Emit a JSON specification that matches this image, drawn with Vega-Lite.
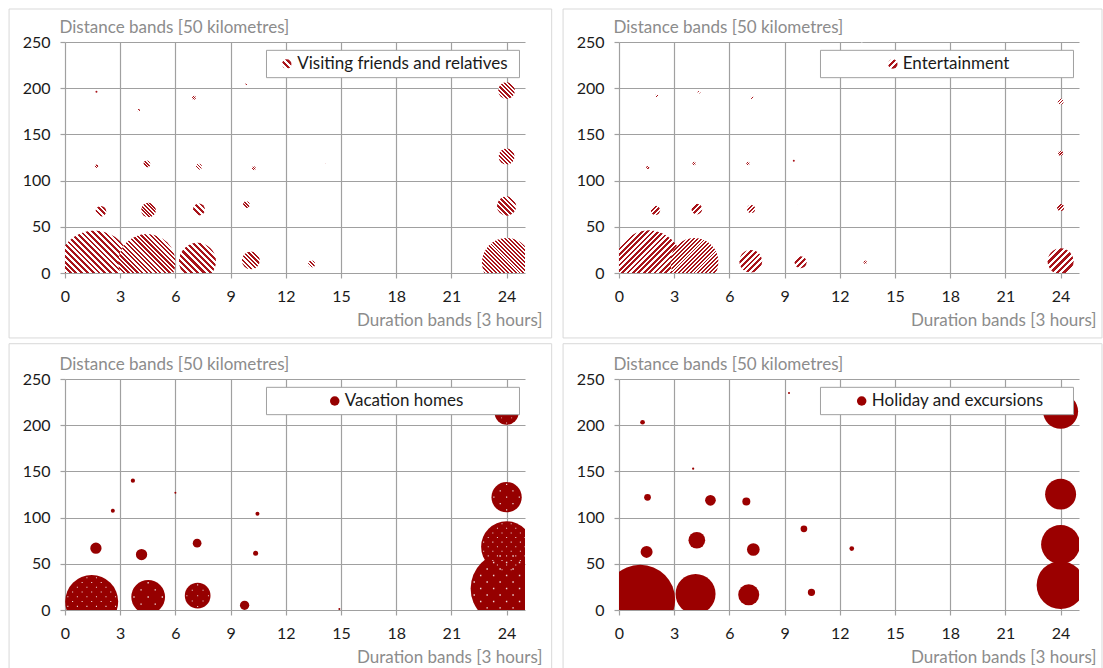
{
"$schema": "https://vega.github.io/schema/vega-lite/v6.json",
"background": "white",
"padding": {"left": 8, "top": 8, "right": 0, "bottom": 0},
"autosize": {"type": "pad"},
"bounds": "flush",
"columns": 2,
"spacing": {"row": 106, "column": 94},
"datasets": {
"vfr": [
{"duration":1.6,"distance":7,"trips":518},{"duration":4.45,"distance":11.4,"trips":325},{"duration":7.2,"distance":12.6,"trips":137},{"duration":10.1,"distance":13.7,"trips":32},{"duration":13.4,"distance":9.7,"trips":4.9},
{"duration":1.95,"distance":66.8,"trips":11.4},{"duration":4.54,"distance":68.2,"trips":21.6},{"duration":7.28,"distance":68.6,"trips":14.4},{"duration":9.86,"distance":74,"trips":4.5},{"duration":12.64,"distance":76.5,"trips":0.4},
{"duration":1.71,"distance":115.5,"trips":1.2},{"duration":4.45,"distance":118,"trips":4.5},{"duration":7.28,"distance":115.1,"trips":3.6},{"duration":10.26,"distance":113.3,"trips":1.6},{"duration":14.22,"distance":118.8,"trips":0.3},
{"duration":1.71,"distance":196.2,"trips":0.4},{"duration":4.0,"distance":176.2,"trips":0.6},{"duration":7.01,"distance":189.6,"trips":1.6},{"duration":9.88,"distance":204.9,"trips":0.6},
{"duration":24,"distance":197.5,"trips":27.9},{"duration":24,"distance":126.1,"trips":25.6},{"duration":24,"distance":72.5,"trips":37.2},{"duration":24,"distance":11.3,"trips":243}
],
"ent": [
{"duration":1.62,"distance":9.9,"trips":449},{"duration":4.1,"distance":11.9,"trips":230},{"duration":7.16,"distance":12.7,"trips":51.5},{"duration":9.87,"distance":11.6,"trips":14.4},{"duration":13.38,"distance":11.6,"trips":1.2},
{"duration":1.98,"distance":67.8,"trips":8.6},{"duration":4.23,"distance":69.2,"trips":11.4},{"duration":7.18,"distance":69.2,"trips":6.4},{"duration":9.75,"distance":72.8,"trips":0.4},
{"duration":1.56,"distance":114.1,"trips":0.9},{"duration":4.08,"distance":118.5,"trips":1.2},{"duration":7.01,"distance":118.5,"trips":1.2},{"duration":9.5,"distance":121.4,"trips":0.4},
{"duration":2.05,"distance":191.7,"trips":0.9},{"duration":4.35,"distance":195.7,"trips":0.6},{"duration":7.23,"distance":189.9,"trips":0.9},{"duration":13.2,"distance":249.6,"trips":0.1},
{"duration":24,"distance":185.5,"trips":3.6},{"duration":24,"distance":129.7,"trips":2.5},{"duration":24,"distance":71,"trips":4.9},{"duration":24,"distance":12.6,"trips":67.6}
],
"vac": [
{"duration":1.45,"distance":9.1,"trips":281},{"duration":4.52,"distance":14.1,"trips":114},{"duration":7.21,"distance":15.5,"trips":66},{"duration":9.76,"distance":5.1,"trips":8.6},{"duration":14.91,"distance":1.1,"trips":0.4},
{"duration":1.68,"distance":66.9,"trips":12.8},{"duration":4.16,"distance":60,"trips":12.8},{"duration":7.18,"distance":72.3,"trips":7.6},{"duration":10.36,"distance":61.5,"trips":2.5},
{"duration":2.6,"distance":107.4,"trips":1.6},{"duration":10.46,"distance":104.1,"trips":1.6},{"duration":3.69,"distance":139.9,"trips":1.8},{"duration":6.0,"distance":126.9,"trips":0.4},
{"duration":24,"distance":213.4,"trips":57.6},{"duration":24,"distance":122.1,"trips":91.8},{"duration":24,"distance":68.5,"trips":260},{"duration":24,"distance":23.3,"trips":518}
],
"hol": [
{"duration":1.15,"distance":11.1,"trips":490},{"duration":4.16,"distance":17.3,"trips":160},{"duration":7.05,"distance":16.5,"trips":44.1},{"duration":10.46,"distance":19.1,"trips":5.3},
{"duration":1.5,"distance":62.9,"trips":14.4},{"duration":4.23,"distance":75.5,"trips":27.9},{"duration":7.3,"distance":65.5,"trips":16.1},{"duration":10.05,"distance":87.8,"trips":4.5},{"duration":12.65,"distance":66.5,"trips":2.2},
{"duration":1.55,"distance":121.9,"trips":4.5},{"duration":4.97,"distance":118.7,"trips":11.4},{"duration":6.92,"distance":117.3,"trips":6.4},
{"duration":1.28,"distance":203.2,"trips":2.2},{"duration":4.03,"distance":152.9,"trips":0.5},{"duration":9.24,"distance":234.9,"trips":0.4},
{"duration":24,"distance":215,"trips":122.5},{"duration":24,"distance":125.4,"trips":96},{"duration":24,"distance":71,"trips":152},{"duration":24,"distance":27,"trips":230}
]
},
"concat": [
{
"width": 460, "height": 231,
"data": {"name": "vfr"},
"layer": [
{"data": {"values": [{}]}, "mark": {"type": "rect", "fill": "white", "fillOpacity": 0, "stroke": "#d9d9d9", "strokeWidth": 1, "clip": false},
 "encoding": {"x": {"datum": -3.04, "type": "quantitative", "title": "Duration bands [3 hours]"}, "x2": {"datum": 26.45}, "y": {"datum": 285.7, "type": "quantitative", "title": "Distance bands [50 kilometres]"}, "y2": {"datum": -70.3}}},
{"mark": {"type": "point", "shape": "circle", "filled": true, "opacity": 1, "strokeWidth": 0, "clip": true},
 "encoding": {
  "x": {"field": "duration", "type": "quantitative", "title": "Duration bands [3 hours]", "scale": {"domain": [0, 25], "nice": false, "zero": false}, "axis": {"values": [0,3,6,9,12,15,18,21,24], "labelFlush": false, "titleAnchor": "end", "titleAlign": "right", "titleX": 477, "titleY": 47, "titleBaseline": "middle"}},
  "y": {"field": "distance", "type": "quantitative", "title": "Distance bands [50 kilometres]", "scale": {"domain": [0, 250], "nice": false}, "axis": {"values": [0,50,100,150,200,250], "labelFlush": false, "titleAngle": 0, "titleAlign": "left", "titleX": -6, "titleY": -15, "titleBaseline": "middle"}},
  "size": {"field": "trips", "type": "quantitative", "scale": {"domain": [0, 600], "range": [0, 6000]}, "legend": null},
  "fill": {"condition": [
   {"test": "datum.trips >= 194", "value": {"gradient": "linear", "x1": 0, "y1": 1, "x2": 1, "y2": 0, "stops": [{"offset":0,"color":"#a8141a"},{"offset":0.02,"color":"#a8141a"},{"offset":0.02,"color":"#fff"},{"offset":0.04,"color":"#fff"},{"offset":0.04,"color":"#a8141a"},{"offset":0.06,"color":"#a8141a"},{"offset":0.06,"color":"#fff"},{"offset":0.08,"color":"#fff"},{"offset":0.08,"color":"#a8141a"},{"offset":0.1,"color":"#a8141a"},{"offset":0.1,"color":"#fff"},{"offset":0.12,"color":"#fff"},{"offset":0.12,"color":"#a8141a"},{"offset":0.14,"color":"#a8141a"},{"offset":0.14,"color":"#fff"},{"offset":0.16,"color":"#fff"},{"offset":0.16,"color":"#a8141a"},{"offset":0.18,"color":"#a8141a"},{"offset":0.18,"color":"#fff"},{"offset":0.2,"color":"#fff"},{"offset":0.2,"color":"#a8141a"},{"offset":0.22,"color":"#a8141a"},{"offset":0.22,"color":"#fff"},{"offset":0.24,"color":"#fff"},{"offset":0.24,"color":"#a8141a"},{"offset":0.26,"color":"#a8141a"},{"offset":0.26,"color":"#fff"},{"offset":0.28,"color":"#fff"},{"offset":0.28,"color":"#a8141a"},{"offset":0.3,"color":"#a8141a"},{"offset":0.3,"color":"#fff"},{"offset":0.32,"color":"#fff"},{"offset":0.32,"color":"#a8141a"},{"offset":0.34,"color":"#a8141a"},{"offset":0.34,"color":"#fff"},{"offset":0.36,"color":"#fff"},{"offset":0.36,"color":"#a8141a"},{"offset":0.38,"color":"#a8141a"},{"offset":0.38,"color":"#fff"},{"offset":0.4,"color":"#fff"},{"offset":0.4,"color":"#a8141a"},{"offset":0.42,"color":"#a8141a"},{"offset":0.42,"color":"#fff"},{"offset":0.44,"color":"#fff"},{"offset":0.44,"color":"#a8141a"},{"offset":0.46,"color":"#a8141a"},{"offset":0.46,"color":"#fff"},{"offset":0.48,"color":"#fff"},{"offset":0.48,"color":"#a8141a"},{"offset":0.5,"color":"#a8141a"},{"offset":0.5,"color":"#fff"},{"offset":0.52,"color":"#fff"},{"offset":0.52,"color":"#a8141a"},{"offset":0.54,"color":"#a8141a"},{"offset":0.54,"color":"#fff"},{"offset":0.56,"color":"#fff"},{"offset":0.56,"color":"#a8141a"},{"offset":0.58,"color":"#a8141a"},{"offset":0.58,"color":"#fff"},{"offset":0.6,"color":"#fff"},{"offset":0.6,"color":"#a8141a"},{"offset":0.62,"color":"#a8141a"},{"offset":0.62,"color":"#fff"},{"offset":0.64,"color":"#fff"},{"offset":0.64,"color":"#a8141a"},{"offset":0.66,"color":"#a8141a"},{"offset":0.66,"color":"#fff"},{"offset":0.68,"color":"#fff"},{"offset":0.68,"color":"#a8141a"},{"offset":0.7,"color":"#a8141a"},{"offset":0.7,"color":"#fff"},{"offset":0.72,"color":"#fff"},{"offset":0.72,"color":"#a8141a"},{"offset":0.74,"color":"#a8141a"},{"offset":0.74,"color":"#fff"},{"offset":0.76,"color":"#fff"},{"offset":0.76,"color":"#a8141a"},{"offset":0.78,"color":"#a8141a"},{"offset":0.78,"color":"#fff"},{"offset":0.8,"color":"#fff"},{"offset":0.8,"color":"#a8141a"},{"offset":0.82,"color":"#a8141a"},{"offset":0.82,"color":"#fff"},{"offset":0.84,"color":"#fff"},{"offset":0.84,"color":"#a8141a"},{"offset":0.86,"color":"#a8141a"},{"offset":0.86,"color":"#fff"},{"offset":0.88,"color":"#fff"},{"offset":0.88,"color":"#a8141a"},{"offset":0.9,"color":"#a8141a"},{"offset":0.9,"color":"#fff"},{"offset":0.92,"color":"#fff"},{"offset":0.92,"color":"#a8141a"},{"offset":0.94,"color":"#a8141a"},{"offset":0.94,"color":"#fff"},{"offset":0.96,"color":"#fff"},{"offset":0.96,"color":"#a8141a"},{"offset":0.98,"color":"#a8141a"},{"offset":0.98,"color":"#fff"},{"offset":1,"color":"#fff"}]}},
   {"test": "datum.trips >= 78", "value": {"gradient": "linear", "x1": 0, "y1": 1, "x2": 1, "y2": 0, "stops": [{"offset":0,"color":"#a8141a"},{"offset":0.0417,"color":"#a8141a"},{"offset":0.0417,"color":"#fff"},{"offset":0.0833,"color":"#fff"},{"offset":0.0833,"color":"#a8141a"},{"offset":0.125,"color":"#a8141a"},{"offset":0.125,"color":"#fff"},{"offset":0.1667,"color":"#fff"},{"offset":0.1667,"color":"#a8141a"},{"offset":0.2083,"color":"#a8141a"},{"offset":0.2083,"color":"#fff"},{"offset":0.25,"color":"#fff"},{"offset":0.25,"color":"#a8141a"},{"offset":0.2917,"color":"#a8141a"},{"offset":0.2917,"color":"#fff"},{"offset":0.3333,"color":"#fff"},{"offset":0.3333,"color":"#a8141a"},{"offset":0.375,"color":"#a8141a"},{"offset":0.375,"color":"#fff"},{"offset":0.4167,"color":"#fff"},{"offset":0.4167,"color":"#a8141a"},{"offset":0.4583,"color":"#a8141a"},{"offset":0.4583,"color":"#fff"},{"offset":0.5,"color":"#fff"},{"offset":0.5,"color":"#a8141a"},{"offset":0.5417,"color":"#a8141a"},{"offset":0.5417,"color":"#fff"},{"offset":0.5833,"color":"#fff"},{"offset":0.5833,"color":"#a8141a"},{"offset":0.625,"color":"#a8141a"},{"offset":0.625,"color":"#fff"},{"offset":0.6667,"color":"#fff"},{"offset":0.6667,"color":"#a8141a"},{"offset":0.7083,"color":"#a8141a"},{"offset":0.7083,"color":"#fff"},{"offset":0.75,"color":"#fff"},{"offset":0.75,"color":"#a8141a"},{"offset":0.7917,"color":"#a8141a"},{"offset":0.7917,"color":"#fff"},{"offset":0.8333,"color":"#fff"},{"offset":0.8333,"color":"#a8141a"},{"offset":0.875,"color":"#a8141a"},{"offset":0.875,"color":"#fff"},{"offset":0.9167,"color":"#fff"},{"offset":0.9167,"color":"#a8141a"},{"offset":0.9583,"color":"#a8141a"},{"offset":0.9583,"color":"#fff"},{"offset":1,"color":"#fff"}]}},
   {"test": "datum.trips >= 20", "value": {"gradient": "linear", "x1": 0, "y1": 1, "x2": 1, "y2": 0, "stops": [{"offset":0,"color":"#a8141a"},{"offset":0.0625,"color":"#a8141a"},{"offset":0.0625,"color":"#fff"},{"offset":0.125,"color":"#fff"},{"offset":0.125,"color":"#a8141a"},{"offset":0.1875,"color":"#a8141a"},{"offset":0.1875,"color":"#fff"},{"offset":0.25,"color":"#fff"},{"offset":0.25,"color":"#a8141a"},{"offset":0.3125,"color":"#a8141a"},{"offset":0.3125,"color":"#fff"},{"offset":0.375,"color":"#fff"},{"offset":0.375,"color":"#a8141a"},{"offset":0.4375,"color":"#a8141a"},{"offset":0.4375,"color":"#fff"},{"offset":0.5,"color":"#fff"},{"offset":0.5,"color":"#a8141a"},{"offset":0.5625,"color":"#a8141a"},{"offset":0.5625,"color":"#fff"},{"offset":0.625,"color":"#fff"},{"offset":0.625,"color":"#a8141a"},{"offset":0.6875,"color":"#a8141a"},{"offset":0.6875,"color":"#fff"},{"offset":0.75,"color":"#fff"},{"offset":0.75,"color":"#a8141a"},{"offset":0.8125,"color":"#a8141a"},{"offset":0.8125,"color":"#fff"},{"offset":0.875,"color":"#fff"},{"offset":0.875,"color":"#a8141a"},{"offset":0.9375,"color":"#a8141a"},{"offset":0.9375,"color":"#fff"},{"offset":1,"color":"#fff"}]}}],
   "value": {"gradient": "linear", "x1": 0, "y1": 1, "x2": 1, "y2": 0, "stops": [{"offset":0,"color":"#a8141a"},{"offset":0.125,"color":"#a8141a"},{"offset":0.125,"color":"#fff"},{"offset":0.25,"color":"#fff"},{"offset":0.25,"color":"#a8141a"},{"offset":0.375,"color":"#a8141a"},{"offset":0.375,"color":"#fff"},{"offset":0.5,"color":"#fff"},{"offset":0.5,"color":"#a8141a"},{"offset":0.625,"color":"#a8141a"},{"offset":0.625,"color":"#fff"},{"offset":0.75,"color":"#fff"},{"offset":0.75,"color":"#a8141a"},{"offset":0.875,"color":"#a8141a"},{"offset":0.875,"color":"#fff"},{"offset":1,"color":"#fff"}]}}
 }},
{"data": {"values": [{}]}, "mark": {"type": "rect", "fill": "white", "stroke": "#a0a0a0", "strokeWidth": 1},
 "encoding": {"x": {"datum": 10.95, "type": "quantitative", "title": "Duration bands [3 hours]"}, "x2": {"datum": 24.7}, "y": {"datum": 241, "type": "quantitative", "title": "Distance bands [50 kilometres]"}, "y2": {"datum": 211.4}}},
{"data": {"values": [{}]}, "mark": {"type": "point", "shape": "circle", "filled": true, "opacity": 1, "strokeWidth": 0, "size": 90, "fill": {"gradient": "linear", "x1": 0, "y1": 1, "x2": 1, "y2": 0, "stops": [{"offset":0,"color":"#a8141a"},{"offset":0.1667,"color":"#a8141a"},{"offset":0.1667,"color":"#fff"},{"offset":0.3333,"color":"#fff"},{"offset":0.3333,"color":"#a8141a"},{"offset":0.5,"color":"#a8141a"},{"offset":0.5,"color":"#fff"},{"offset":0.6667,"color":"#fff"},{"offset":0.6667,"color":"#a8141a"},{"offset":0.8333,"color":"#a8141a"},{"offset":0.8333,"color":"#fff"},{"offset":1,"color":"#fff"}]}},
 "encoding": {"x": {"datum": 12.05, "type": "quantitative", "title": "Duration bands [3 hours]"}, "y": {"datum": 226.2, "type": "quantitative", "title": "Distance bands [50 kilometres]"}}},
{"data": {"values": [{"label": "Visiting friends and relatives"}]}, "mark": {"type": "text", "align": "left", "baseline": "middle", "fontSize": 17, "color": "#1a1a1a"},
 "encoding": {"x": {"datum": 12.62, "type": "quantitative", "title": "Duration bands [3 hours]"}, "y": {"datum": 226.2, "type": "quantitative", "title": "Distance bands [50 kilometres]"}, "text": {"field": "label"}}}
]
},
{
"width": 460, "height": 231,
"data": {"name": "ent"},
"layer": [
{"data": {"values": [{}]}, "mark": {"type": "rect", "fill": "white", "fillOpacity": 0, "stroke": "#d9d9d9", "strokeWidth": 1, "clip": false},
 "encoding": {"x": {"datum": -3.04, "type": "quantitative", "title": "Duration bands [3 hours]"}, "x2": {"datum": 26.25}, "y": {"datum": 285.7, "type": "quantitative", "title": "Distance bands [50 kilometres]"}, "y2": {"datum": -70.3}}},
{"mark": {"type": "point", "shape": "circle", "filled": true, "opacity": 1, "strokeWidth": 0, "clip": true},
 "encoding": {
  "x": {"field": "duration", "type": "quantitative", "title": "Duration bands [3 hours]", "scale": {"domain": [0, 25], "nice": false, "zero": false}, "axis": {"values": [0,3,6,9,12,15,18,21,24], "labelFlush": false, "titleAnchor": "end", "titleAlign": "right", "titleX": 477, "titleY": 47, "titleBaseline": "middle"}},
  "y": {"field": "distance", "type": "quantitative", "title": "Distance bands [50 kilometres]", "scale": {"domain": [0, 250], "nice": false}, "axis": {"values": [0,50,100,150,200,250], "labelFlush": false, "titleAngle": 0, "titleAlign": "left", "titleX": -6, "titleY": -15, "titleBaseline": "middle"}},
  "size": {"field": "trips", "type": "quantitative", "scale": {"domain": [0, 600], "range": [0, 6000]}, "legend": null},
  "fill": {"condition": [
   {"test": "datum.trips >= 194", "value": {"gradient": "linear", "x1": 0, "y1": 0, "x2": 1, "y2": 1, "stops": [{"offset":0,"color":"#a8141a"},{"offset":0.02,"color":"#a8141a"},{"offset":0.02,"color":"#fff"},{"offset":0.04,"color":"#fff"},{"offset":0.04,"color":"#a8141a"},{"offset":0.06,"color":"#a8141a"},{"offset":0.06,"color":"#fff"},{"offset":0.08,"color":"#fff"},{"offset":0.08,"color":"#a8141a"},{"offset":0.1,"color":"#a8141a"},{"offset":0.1,"color":"#fff"},{"offset":0.12,"color":"#fff"},{"offset":0.12,"color":"#a8141a"},{"offset":0.14,"color":"#a8141a"},{"offset":0.14,"color":"#fff"},{"offset":0.16,"color":"#fff"},{"offset":0.16,"color":"#a8141a"},{"offset":0.18,"color":"#a8141a"},{"offset":0.18,"color":"#fff"},{"offset":0.2,"color":"#fff"},{"offset":0.2,"color":"#a8141a"},{"offset":0.22,"color":"#a8141a"},{"offset":0.22,"color":"#fff"},{"offset":0.24,"color":"#fff"},{"offset":0.24,"color":"#a8141a"},{"offset":0.26,"color":"#a8141a"},{"offset":0.26,"color":"#fff"},{"offset":0.28,"color":"#fff"},{"offset":0.28,"color":"#a8141a"},{"offset":0.3,"color":"#a8141a"},{"offset":0.3,"color":"#fff"},{"offset":0.32,"color":"#fff"},{"offset":0.32,"color":"#a8141a"},{"offset":0.34,"color":"#a8141a"},{"offset":0.34,"color":"#fff"},{"offset":0.36,"color":"#fff"},{"offset":0.36,"color":"#a8141a"},{"offset":0.38,"color":"#a8141a"},{"offset":0.38,"color":"#fff"},{"offset":0.4,"color":"#fff"},{"offset":0.4,"color":"#a8141a"},{"offset":0.42,"color":"#a8141a"},{"offset":0.42,"color":"#fff"},{"offset":0.44,"color":"#fff"},{"offset":0.44,"color":"#a8141a"},{"offset":0.46,"color":"#a8141a"},{"offset":0.46,"color":"#fff"},{"offset":0.48,"color":"#fff"},{"offset":0.48,"color":"#a8141a"},{"offset":0.5,"color":"#a8141a"},{"offset":0.5,"color":"#fff"},{"offset":0.52,"color":"#fff"},{"offset":0.52,"color":"#a8141a"},{"offset":0.54,"color":"#a8141a"},{"offset":0.54,"color":"#fff"},{"offset":0.56,"color":"#fff"},{"offset":0.56,"color":"#a8141a"},{"offset":0.58,"color":"#a8141a"},{"offset":0.58,"color":"#fff"},{"offset":0.6,"color":"#fff"},{"offset":0.6,"color":"#a8141a"},{"offset":0.62,"color":"#a8141a"},{"offset":0.62,"color":"#fff"},{"offset":0.64,"color":"#fff"},{"offset":0.64,"color":"#a8141a"},{"offset":0.66,"color":"#a8141a"},{"offset":0.66,"color":"#fff"},{"offset":0.68,"color":"#fff"},{"offset":0.68,"color":"#a8141a"},{"offset":0.7,"color":"#a8141a"},{"offset":0.7,"color":"#fff"},{"offset":0.72,"color":"#fff"},{"offset":0.72,"color":"#a8141a"},{"offset":0.74,"color":"#a8141a"},{"offset":0.74,"color":"#fff"},{"offset":0.76,"color":"#fff"},{"offset":0.76,"color":"#a8141a"},{"offset":0.78,"color":"#a8141a"},{"offset":0.78,"color":"#fff"},{"offset":0.8,"color":"#fff"},{"offset":0.8,"color":"#a8141a"},{"offset":0.82,"color":"#a8141a"},{"offset":0.82,"color":"#fff"},{"offset":0.84,"color":"#fff"},{"offset":0.84,"color":"#a8141a"},{"offset":0.86,"color":"#a8141a"},{"offset":0.86,"color":"#fff"},{"offset":0.88,"color":"#fff"},{"offset":0.88,"color":"#a8141a"},{"offset":0.9,"color":"#a8141a"},{"offset":0.9,"color":"#fff"},{"offset":0.92,"color":"#fff"},{"offset":0.92,"color":"#a8141a"},{"offset":0.94,"color":"#a8141a"},{"offset":0.94,"color":"#fff"},{"offset":0.96,"color":"#fff"},{"offset":0.96,"color":"#a8141a"},{"offset":0.98,"color":"#a8141a"},{"offset":0.98,"color":"#fff"},{"offset":1,"color":"#fff"}]}},
   {"test": "datum.trips >= 78", "value": {"gradient": "linear", "x1": 0, "y1": 0, "x2": 1, "y2": 1, "stops": [{"offset":0,"color":"#a8141a"},{"offset":0.0417,"color":"#a8141a"},{"offset":0.0417,"color":"#fff"},{"offset":0.0833,"color":"#fff"},{"offset":0.0833,"color":"#a8141a"},{"offset":0.125,"color":"#a8141a"},{"offset":0.125,"color":"#fff"},{"offset":0.1667,"color":"#fff"},{"offset":0.1667,"color":"#a8141a"},{"offset":0.2083,"color":"#a8141a"},{"offset":0.2083,"color":"#fff"},{"offset":0.25,"color":"#fff"},{"offset":0.25,"color":"#a8141a"},{"offset":0.2917,"color":"#a8141a"},{"offset":0.2917,"color":"#fff"},{"offset":0.3333,"color":"#fff"},{"offset":0.3333,"color":"#a8141a"},{"offset":0.375,"color":"#a8141a"},{"offset":0.375,"color":"#fff"},{"offset":0.4167,"color":"#fff"},{"offset":0.4167,"color":"#a8141a"},{"offset":0.4583,"color":"#a8141a"},{"offset":0.4583,"color":"#fff"},{"offset":0.5,"color":"#fff"},{"offset":0.5,"color":"#a8141a"},{"offset":0.5417,"color":"#a8141a"},{"offset":0.5417,"color":"#fff"},{"offset":0.5833,"color":"#fff"},{"offset":0.5833,"color":"#a8141a"},{"offset":0.625,"color":"#a8141a"},{"offset":0.625,"color":"#fff"},{"offset":0.6667,"color":"#fff"},{"offset":0.6667,"color":"#a8141a"},{"offset":0.7083,"color":"#a8141a"},{"offset":0.7083,"color":"#fff"},{"offset":0.75,"color":"#fff"},{"offset":0.75,"color":"#a8141a"},{"offset":0.7917,"color":"#a8141a"},{"offset":0.7917,"color":"#fff"},{"offset":0.8333,"color":"#fff"},{"offset":0.8333,"color":"#a8141a"},{"offset":0.875,"color":"#a8141a"},{"offset":0.875,"color":"#fff"},{"offset":0.9167,"color":"#fff"},{"offset":0.9167,"color":"#a8141a"},{"offset":0.9583,"color":"#a8141a"},{"offset":0.9583,"color":"#fff"},{"offset":1,"color":"#fff"}]}},
   {"test": "datum.trips >= 20", "value": {"gradient": "linear", "x1": 0, "y1": 0, "x2": 1, "y2": 1, "stops": [{"offset":0,"color":"#a8141a"},{"offset":0.0625,"color":"#a8141a"},{"offset":0.0625,"color":"#fff"},{"offset":0.125,"color":"#fff"},{"offset":0.125,"color":"#a8141a"},{"offset":0.1875,"color":"#a8141a"},{"offset":0.1875,"color":"#fff"},{"offset":0.25,"color":"#fff"},{"offset":0.25,"color":"#a8141a"},{"offset":0.3125,"color":"#a8141a"},{"offset":0.3125,"color":"#fff"},{"offset":0.375,"color":"#fff"},{"offset":0.375,"color":"#a8141a"},{"offset":0.4375,"color":"#a8141a"},{"offset":0.4375,"color":"#fff"},{"offset":0.5,"color":"#fff"},{"offset":0.5,"color":"#a8141a"},{"offset":0.5625,"color":"#a8141a"},{"offset":0.5625,"color":"#fff"},{"offset":0.625,"color":"#fff"},{"offset":0.625,"color":"#a8141a"},{"offset":0.6875,"color":"#a8141a"},{"offset":0.6875,"color":"#fff"},{"offset":0.75,"color":"#fff"},{"offset":0.75,"color":"#a8141a"},{"offset":0.8125,"color":"#a8141a"},{"offset":0.8125,"color":"#fff"},{"offset":0.875,"color":"#fff"},{"offset":0.875,"color":"#a8141a"},{"offset":0.9375,"color":"#a8141a"},{"offset":0.9375,"color":"#fff"},{"offset":1,"color":"#fff"}]}}],
   "value": {"gradient": "linear", "x1": 0, "y1": 0, "x2": 1, "y2": 1, "stops": [{"offset":0,"color":"#a8141a"},{"offset":0.125,"color":"#a8141a"},{"offset":0.125,"color":"#fff"},{"offset":0.25,"color":"#fff"},{"offset":0.25,"color":"#a8141a"},{"offset":0.375,"color":"#a8141a"},{"offset":0.375,"color":"#fff"},{"offset":0.5,"color":"#fff"},{"offset":0.5,"color":"#a8141a"},{"offset":0.625,"color":"#a8141a"},{"offset":0.625,"color":"#fff"},{"offset":0.75,"color":"#fff"},{"offset":0.75,"color":"#a8141a"},{"offset":0.875,"color":"#a8141a"},{"offset":0.875,"color":"#fff"},{"offset":1,"color":"#fff"}]}}
 }},
{"data": {"values": [{}]}, "mark": {"type": "rect", "fill": "white", "stroke": "#a0a0a0", "strokeWidth": 1},
 "encoding": {"x": {"datum": 10.95, "type": "quantitative", "title": "Duration bands [3 hours]"}, "x2": {"datum": 24.7}, "y": {"datum": 241, "type": "quantitative", "title": "Distance bands [50 kilometres]"}, "y2": {"datum": 211.4}}},
{"data": {"values": [{}]}, "mark": {"type": "point", "shape": "circle", "filled": true, "opacity": 1, "strokeWidth": 0, "size": 90, "fill": {"gradient": "linear", "x1": 0, "y1": 0, "x2": 1, "y2": 1, "stops": [{"offset":0,"color":"#a8141a"},{"offset":0.1667,"color":"#a8141a"},{"offset":0.1667,"color":"#fff"},{"offset":0.3333,"color":"#fff"},{"offset":0.3333,"color":"#a8141a"},{"offset":0.5,"color":"#a8141a"},{"offset":0.5,"color":"#fff"},{"offset":0.6667,"color":"#fff"},{"offset":0.6667,"color":"#a8141a"},{"offset":0.8333,"color":"#a8141a"},{"offset":0.8333,"color":"#fff"},{"offset":1,"color":"#fff"}]}},
 "encoding": {"x": {"datum": 14.88, "type": "quantitative", "title": "Duration bands [3 hours]"}, "y": {"datum": 226.2, "type": "quantitative", "title": "Distance bands [50 kilometres]"}}},
{"data": {"values": [{"label": "Entertainment"}]}, "mark": {"type": "text", "align": "left", "baseline": "middle", "fontSize": 17, "color": "#1a1a1a"},
 "encoding": {"x": {"datum": 15.42, "type": "quantitative", "title": "Duration bands [3 hours]"}, "y": {"datum": 226.2, "type": "quantitative", "title": "Distance bands [50 kilometres]"}, "text": {"field": "label"}}}
]
},
{
"width": 460, "height": 231,
"data": {"name": "vac"},
"layer": [
{"data": {"values": [{}]}, "mark": {"type": "rect", "fill": "white", "fillOpacity": 0, "stroke": "#d9d9d9", "strokeWidth": 1, "clip": false},
 "encoding": {"x": {"datum": -3.04, "type": "quantitative", "title": "Duration bands [3 hours]"}, "x2": {"datum": 26.45}, "y": {"datum": 288.2, "type": "quantitative", "title": "Distance bands [50 kilometres]"}, "y2": {"datum": -70.3}}},
{"mark": {"type": "point", "shape": "circle", "filled": true, "opacity": 1, "strokeWidth": 0, "clip": true, "fill": "#960000"},
 "encoding": {
  "x": {"field": "duration", "type": "quantitative", "title": "Duration bands [3 hours]", "scale": {"domain": [0, 25], "nice": false, "zero": false}, "axis": {"values": [0,3,6,9,12,15,18,21,24], "labelFlush": false, "titleAnchor": "end", "titleAlign": "right", "titleX": 477, "titleY": 47, "titleBaseline": "middle"}},
  "y": {"field": "distance", "type": "quantitative", "title": "Distance bands [50 kilometres]", "scale": {"domain": [0, 250], "nice": false}, "axis": {"values": [0,50,100,150,200,250], "labelFlush": false, "titleAngle": 0, "titleAlign": "left", "titleX": -6, "titleY": -15, "titleBaseline": "middle"}},
  "size": {"field": "trips", "type": "quantitative", "scale": {"domain": [0, 600], "range": [0, 6000]}, "legend": null}
 }},
{"transform": [{"filter": "datum.trips >= 200"}],
 "mark": {"type": "point", "shape": "M-0.2 -0.92h0.04v0.04h-0.04zM0.16 -0.92h0.04v0.04h-0.04zM-0.38 -0.74h0.04v0.04h-0.04zM-0.02 -0.74h0.04v0.04h-0.04zM0.34 -0.74h0.04v0.04h-0.04zM-0.56 -0.56h0.04v0.04h-0.04zM-0.2 -0.56h0.04v0.04h-0.04zM0.16 -0.56h0.04v0.04h-0.04zM0.52 -0.56h0.04v0.04h-0.04zM-0.74 -0.38h0.04v0.04h-0.04zM-0.38 -0.38h0.04v0.04h-0.04zM-0.02 -0.38h0.04v0.04h-0.04zM0.34 -0.38h0.04v0.04h-0.04zM0.7 -0.38h0.04v0.04h-0.04zM-0.92 -0.2h0.04v0.04h-0.04zM-0.56 -0.2h0.04v0.04h-0.04zM-0.2 -0.2h0.04v0.04h-0.04zM0.16 -0.2h0.04v0.04h-0.04zM0.52 -0.2h0.04v0.04h-0.04zM0.88 -0.2h0.04v0.04h-0.04zM-0.74 -0.02h0.04v0.04h-0.04zM-0.38 -0.02h0.04v0.04h-0.04zM-0.02 -0.02h0.04v0.04h-0.04zM0.34 -0.02h0.04v0.04h-0.04zM0.7 -0.02h0.04v0.04h-0.04zM-0.92 0.16h0.04v0.04h-0.04zM-0.56 0.16h0.04v0.04h-0.04zM-0.2 0.16h0.04v0.04h-0.04zM0.16 0.16h0.04v0.04h-0.04zM0.52 0.16h0.04v0.04h-0.04zM0.88 0.16h0.04v0.04h-0.04zM-0.74 0.34h0.04v0.04h-0.04zM-0.38 0.34h0.04v0.04h-0.04zM-0.02 0.34h0.04v0.04h-0.04zM0.34 0.34h0.04v0.04h-0.04zM0.7 0.34h0.04v0.04h-0.04zM-0.56 0.52h0.04v0.04h-0.04zM-0.2 0.52h0.04v0.04h-0.04zM0.16 0.52h0.04v0.04h-0.04zM0.52 0.52h0.04v0.04h-0.04zM-0.38 0.7h0.04v0.04h-0.04zM-0.02 0.7h0.04v0.04h-0.04zM0.34 0.7h0.04v0.04h-0.04zM-0.2 0.88h0.04v0.04h-0.04zM0.16 0.88h0.04v0.04h-0.04z", "filled": true, "fill": "#ffffff", "opacity": 0.85, "strokeWidth": 0, "clip": true},
 "encoding": {
  "x": {"field": "duration", "type": "quantitative", "title": "Duration bands [3 hours]"},
  "y": {"field": "distance", "type": "quantitative", "title": "Distance bands [50 kilometres]"},
  "size": {"field": "trips", "type": "quantitative", "scale": {"domain": [0, 600], "range": [0, 6000]}, "legend": null}
 }},
{"transform": [{"filter": "datum.trips >= 50 && datum.trips < 200"}],
 "mark": {"type": "point", "shape": "M-0.04 -0.88h0.08v0.08h-0.08zM-0.46 -0.46h0.08v0.08h-0.08zM0.38 -0.46h0.08v0.08h-0.08zM-0.88 -0.04h0.08v0.08h-0.08zM-0.04 -0.04h0.08v0.08h-0.08zM0.8 -0.04h0.08v0.08h-0.08zM-0.46 0.38h0.08v0.08h-0.08zM0.38 0.38h0.08v0.08h-0.08zM-0.04 0.8h0.08v0.08h-0.08z", "filled": true, "fill": "#ffffff", "opacity": 0.85, "strokeWidth": 0, "clip": true},
 "encoding": {
  "x": {"field": "duration", "type": "quantitative", "title": "Duration bands [3 hours]"},
  "y": {"field": "distance", "type": "quantitative", "title": "Distance bands [50 kilometres]"},
  "size": {"field": "trips", "type": "quantitative", "scale": {"domain": [0, 600], "range": [0, 6000]}, "legend": null}
 }},
{"data": {"values": [{}]}, "mark": {"type": "rect", "fill": "white", "stroke": "#a0a0a0", "strokeWidth": 1},
 "encoding": {"x": {"datum": 10.95, "type": "quantitative", "title": "Duration bands [3 hours]"}, "x2": {"datum": 24.7}, "y": {"datum": 241, "type": "quantitative", "title": "Distance bands [50 kilometres]"}, "y2": {"datum": 211.4}}},
{"data": {"values": [{}]}, "mark": {"type": "point", "shape": "circle", "filled": true, "opacity": 1, "strokeWidth": 0, "size": 90, "fill": "#960000"},
 "encoding": {"x": {"datum": 14.66, "type": "quantitative", "title": "Duration bands [3 hours]"}, "y": {"datum": 226.2, "type": "quantitative", "title": "Distance bands [50 kilometres]"}}},
{"data": {"values": [{"label": "Vacation homes"}]}, "mark": {"type": "text", "align": "left", "baseline": "middle", "fontSize": 17, "color": "#1a1a1a"},
 "encoding": {"x": {"datum": 15.2, "type": "quantitative", "title": "Duration bands [3 hours]"}, "y": {"datum": 226.2, "type": "quantitative", "title": "Distance bands [50 kilometres]"}, "text": {"field": "label"}}}
]
},
{
"width": 460, "height": 231,
"data": {"name": "hol"},
"layer": [
{"data": {"values": [{}]}, "mark": {"type": "rect", "fill": "white", "fillOpacity": 0, "stroke": "#d9d9d9", "strokeWidth": 1, "clip": false},
 "encoding": {"x": {"datum": -3.04, "type": "quantitative", "title": "Duration bands [3 hours]"}, "x2": {"datum": 26.25}, "y": {"datum": 288.2, "type": "quantitative", "title": "Distance bands [50 kilometres]"}, "y2": {"datum": -70.3}}},
{"mark": {"type": "point", "shape": "circle", "filled": true, "opacity": 1, "strokeWidth": 0, "clip": true, "fill": "#9b0000"},
 "encoding": {
  "x": {"field": "duration", "type": "quantitative", "title": "Duration bands [3 hours]", "scale": {"domain": [0, 25], "nice": false, "zero": false}, "axis": {"values": [0,3,6,9,12,15,18,21,24], "labelFlush": false, "titleAnchor": "end", "titleAlign": "right", "titleX": 477, "titleY": 47, "titleBaseline": "middle"}},
  "y": {"field": "distance", "type": "quantitative", "title": "Distance bands [50 kilometres]", "scale": {"domain": [0, 250], "nice": false}, "axis": {"values": [0,50,100,150,200,250], "labelFlush": false, "titleAngle": 0, "titleAlign": "left", "titleX": -6, "titleY": -15, "titleBaseline": "middle"}},
  "size": {"field": "trips", "type": "quantitative", "scale": {"domain": [0, 600], "range": [0, 6000]}, "legend": null}
 }},
{"data": {"values": [{}]}, "mark": {"type": "rect", "fill": "white", "stroke": "#a0a0a0", "strokeWidth": 1},
 "encoding": {"x": {"datum": 10.95, "type": "quantitative", "title": "Duration bands [3 hours]"}, "x2": {"datum": 24.7}, "y": {"datum": 241, "type": "quantitative", "title": "Distance bands [50 kilometres]"}, "y2": {"datum": 211.4}}},
{"data": {"values": [{}]}, "mark": {"type": "point", "shape": "circle", "filled": true, "opacity": 1, "strokeWidth": 0, "size": 90, "fill": "#9b0000"},
 "encoding": {"x": {"datum": 13.19, "type": "quantitative", "title": "Duration bands [3 hours]"}, "y": {"datum": 226.2, "type": "quantitative", "title": "Distance bands [50 kilometres]"}}},
{"data": {"values": [{"label": "Holiday and excursions"}]}, "mark": {"type": "text", "align": "left", "baseline": "middle", "fontSize": 17, "color": "#1a1a1a"},
 "encoding": {"x": {"datum": 13.74, "type": "quantitative", "title": "Duration bands [3 hours]"}, "y": {"datum": 226.2, "type": "quantitative", "title": "Distance bands [50 kilometres]"}, "text": {"field": "label"}}}
]
}
],
"config": {
 "font": "Lato",
 "view": {"stroke": null},
 "axis": {"grid": true, "gridColor": "#a0a0a0", "gridWidth": 1.2, "domain": false, "ticks": true, "tickColor": "#a0a0a0", "tickSize": 5, "tickWidth": 1.2, "labelFont": "Lato", "labelFontSize": 16, "labelColor": "#1a1a1a", "labelPadding": 10, "titleFont": "Lato", "titleFontSize": 17, "titleFontWeight": "normal", "titleColor": "#8c8c8c"}
}
}
